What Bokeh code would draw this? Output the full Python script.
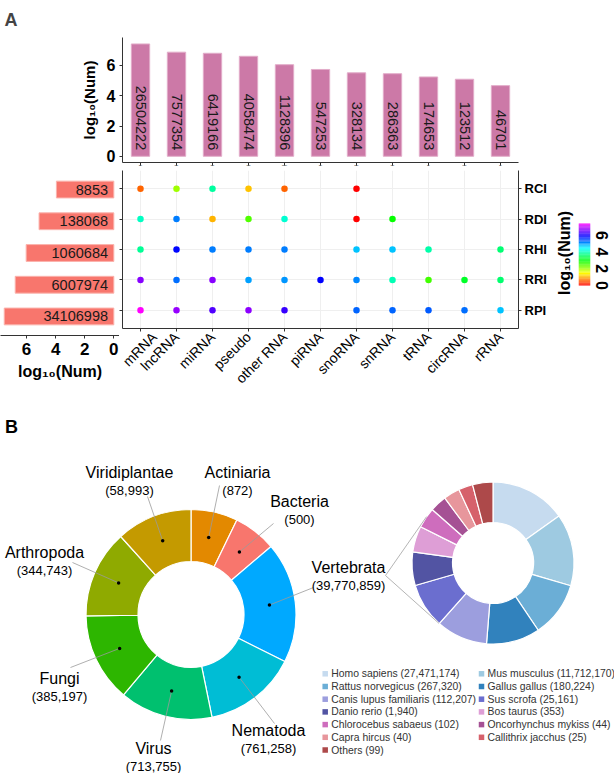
import math, colorsys
import numpy as np
from bokeh.plotting import figure
from bokeh.layouts import column, row
from bokeh.models import Range1d, FactorRange, FixedTicker, LinearAxis, ColumnDataSource
from bokeh.transform import linear_cmap
from bokeh.core.properties import value
from bokeh.embed import file_html
from bokeh.resources import INLINE

FONT = "Liberation Sans"
AX = "#333333"
TXT = "#1a1a1a"

# ---------------- data (panel A) ----------------
rna_types = ["mRNA", "lncRNA", "miRNA", "pseudo", "other RNA", "piRNA",
             "snoRNA", "snRNA", "tRNA", "circRNA", "rRNA"]
rna_totals = [26504222, 7577354, 6419166, 4058474, 1128396, 547253,
              328134, 286363, 174653, 123512, 46701]

interactions = ["RPI", "RRI", "RHI", "RDI", "RCI"]          # bottom -> top
interaction_totals = [34106998, 6007974, 1060684, 138068, 8853]

dot_interaction = (["RCI"] * 6 + ["RDI"] * 7 + ["RHI"] * 9 + ["RRI"] * 11 + ["RPI"] * 10)
dot_rna = (["mRNA", "lncRNA", "miRNA", "pseudo", "other RNA", "snoRNA"] +
           ["mRNA", "lncRNA", "miRNA", "pseudo", "other RNA", "snoRNA", "snRNA"] +
           ["mRNA", "lncRNA", "miRNA", "pseudo", "other RNA", "snoRNA", "snRNA", "tRNA", "rRNA"] +
           ["mRNA", "lncRNA", "miRNA", "pseudo", "other RNA", "piRNA", "snoRNA", "snRNA", "tRNA", "circRNA", "rRNA"] +
           ["mRNA", "lncRNA", "miRNA", "pseudo", "other RNA", "snoRNA", "snRNA", "tRNA", "circRNA", "rRNA"])
dot_log10 = ([0.6, 2.05, 3.9, 1.15, 0.6, 0.0] +
             [4.1, 5.2, 1.05, 2.5, 4.2, 0.0, 2.95] +
             [3.85, 5.9, 5.2, 5.2, 5.2, 4.8, 4.8, 3.95, 3.65] +
             [6.7, 5.3, 6.7, 5.0, 5.05, 5.94, 5.15, 4.0, 2.6, 3.2, 3.6] +
             [7.42, 6.8, 6.4, 6.75, 6.25, 5.35, 5.35, 5.4, 5.3, 4.8])

# ---------------- data (panel B) ----------------
kingdoms = ["Actiniaria", "Bacteria", "Vertebrata", "Nematoda", "Virus",
            "Fungi", "Arthropoda", "Viridiplantae"]
kingdom_counts = [872, 500, 39770859, 761258, 713755, 385197, 344743, 58993]
kingdom_colors = ["#E38900", "#F8766D", "#00A9FF", "#00BDD5", "#00C06F",
                  "#2DB600", "#8FAA00", "#C49A00"]

species = ["Homo sapiens", "Mus musculus", "Rattus norvegicus", "Gallus gallus",
           "Canis lupus familiaris", "Sus scrofa", "Danio rerio", "Bos taurus",
           "Chlorocebus sabaeus", "Oncorhynchus mykiss", "Capra hircus",
           "Callithrix jacchus", "Others"]
species_counts = [27471174, 11712170, 267320, 180224, 112207, 25161, 1940,
                  353, 102, 44, 40, 25, 99]
species_colors = ["#C6DBEF", "#9ECAE1", "#6BAED6", "#3182BD", "#9C9EDE",
                  "#6B6ECF", "#5254A3", "#DE9ED6", "#CE6DBD", "#A55194",
                  "#E7969C", "#D6616B", "#AD494A"]

# ---------------- layout constants (page pixels, origin top-left) ----------------
PAGE_H = 773
B_TOP = 395
def Y(y):
    return PAGE_H - y

k_label_xy = [(237, 472), (299, 501), (348, 567), (268, 730), (153, 748),
              (59, 678), (44, 552), (129, 472)]
k_leader_end = [(219, 485), (273, 523), (313, 587), (274, 723), (160, 740),
                (70, 667), (72, 562), (147, 496)]
L_CX, L_CY, L_R, L_r = 190.5, 614, 105, 53
R_CX, R_CY, R_R, R_r = 492.5, 562.5, 81, 40.5
APEX = (385, 575)
LEG_X0, LEG_X1, LEG_Y0, LEG_DY = 324.7, 481.0, 673.3, 12.7


def rainbow_palette(n=256):
    pal = []
    for i in range(n):
        h = (300.0 / 360.0) * i / (n - 1)
        r, g, b = colorsys.hsv_to_rgb(h, 1, 1)
        pal.append("#%02x%02x%02x" % (int(r * 255 + .5), int(g * 255 + .5), int(b * 255 + .5)))
    return pal

PAL = rainbow_palette()
VMAX = max(dot_log10)


def fig(**kw):
    p = figure(output_backend="svg", toolbar_location=None, **kw)
    p.outline_line_color = None
    p.xgrid.visible = False
    p.ygrid.visible = False
    p.frame_align = False
    return p


def style_axis(ax, size="16px", style="bold"):
    ax.axis_line_color = AX
    ax.major_tick_line_color = AX
    ax.minor_tick_line_color = None
    ax.major_tick_in = 0
    ax.major_tick_out = 3
    ax.major_label_text_font = FONT
    ax.major_label_text_font_size = size
    ax.major_label_text_font_style = style
    ax.major_label_text_color = "black"
    ax.axis_label_text_font = FONT
    ax.axis_label_text_font_style = "bold"
    ax.axis_label_text_color = "black"


# ---------------- row 1 : top bars ----------------
p_top = fig(width=614, height=169, x_range=FactorRange(factors=rna_types),
            y_range=Range1d(-0.41, 7.85), min_border_left=122, min_border_right=96,
            min_border_top=36, min_border_bottom=5)
p_top.title.text = "A"
p_top.title.align = "left"
p_top.title.offset = -118
p_top.title.vertical_align = "bottom"
p_top.title.standoff = 15
p_top.title.text_font = FONT
p_top.title.text_font_size = "18px"
p_top.title.text_font_style = "bold"
p_top.vbar(x=rna_types, top=np.log10(rna_totals), width=0.51,
           fill_color="#CC79A7", line_color="#E2ACC9", line_width=1)
p_top.text(x=rna_types, y=[0.4] * len(rna_types), text=[str(v) for v in rna_totals],
           angle=-math.pi / 2, text_align="right", text_baseline="middle",
           text_font=value(FONT), text_font_size="14.5px", text_color=TXT)
style_axis(p_top.yaxis[0], "16px")
p_top.yaxis.ticker = FixedTicker(ticks=[0, 2, 4, 6])
p_top.yaxis.axis_label = "log₁₀(Num)"
p_top.yaxis.axis_label_text_font_size = "15px"
p_top.yaxis.axis_label_standoff = 6
p_top.yaxis.major_label_standoff = 4
style_axis(p_top.xaxis[0], "1px")
p_top.xaxis.major_label_overrides = {f: "" for f in rna_types}
p_top.xaxis.major_label_standoff = 0

# ---------------- row 2 ----------------
row_pos = list(range(len(interactions)))
YR = (-0.6, len(interactions) - 0.4)
TOP2, BOT2 = 1, 60

p_left = fig(width=119, height=226, x_range=Range1d(7.79, -0.39), y_range=Range1d(*YR),
             y_axis_location=None, min_border_left=0, min_border_right=0,
             min_border_top=TOP2, min_border_bottom=BOT2)
p_left.hbar(y=row_pos, left=0, right=np.log10(interaction_totals), height=0.53,
            fill_color="#F8766D", line_color="#FBB3AD", line_width=1)
p_left.text(x=[0.4] * len(interactions), y=row_pos, text=[str(v) for v in interaction_totals],
            text_align="right", text_baseline="middle", text_font=value(FONT),
            text_font_size="14.5px", text_color=TXT)
style_axis(p_left.xaxis[0], "17px")
p_left.xaxis.ticker = FixedTicker(ticks=[0, 2, 4, 6])
p_left.xaxis.axis_label = "log₁₀(Num)"
p_left.xaxis.axis_label_text_font_size = "16px"
p_left.xaxis.major_label_standoff = 4
p_left.xaxis.axis_label_standoff = 5

p_dot = fig(width=433, height=226, x_range=FactorRange(factors=rna_types), y_range=Range1d(*YR),
            y_axis_location="right", min_border_left=3, min_border_right=34,
            min_border_top=TOP2, min_border_bottom=BOT2)
p_dot.xgrid.visible = True
p_dot.ygrid.visible = True
p_dot.xgrid.grid_line_color = "#EFEFEF"
p_dot.ygrid.grid_line_color = "#EFEFEF"
dot_y = [interactions.index(i) for i in dot_interaction]
src = ColumnDataSource(dict(x=dot_rna, y=dot_y, v=dot_log10))
p_dot.scatter(x="x", y="y", size=6.5, line_color=None,
              fill_color=linear_cmap("v", PAL, 0, VMAX), source=src)
style_axis(p_dot.yaxis[0], "13px")
p_dot.yaxis.ticker = FixedTicker(ticks=row_pos)
p_dot.yaxis.major_label_overrides = {i: n for i, n in enumerate(interactions)}
p_dot.yaxis.major_label_standoff = 3
style_axis(p_dot.xaxis[0], "14px", "normal")
p_dot.xaxis.major_label_orientation = math.pi / 4
p_dot.xaxis.major_label_standoff = 3
lax = LinearAxis(ticker=FixedTicker(ticks=row_pos))
style_axis(lax, "1px")
lax.major_label_overrides = {i: "" for i in row_pos}
lax.major_label_standoff = 0
p_dot.add_layout(lax, "left")

# colour bar: frame spans the row, bar drawn from 0..VMAX inside
CB_TOP, CB_BOT, FR_TOP, FR_BOT = 223, 285, 170, 335
scale = (CB_BOT - CB_TOP) / VMAX
p_cb = fig(width=62, height=226, x_range=Range1d(0, 1),
           y_range=Range1d(-(FR_BOT - CB_BOT) / scale, VMAX + (CB_TOP - FR_TOP) / scale),
           x_axis_location=None, y_axis_location="right",
           min_border_left=26, min_border_right=24, min_border_top=TOP2, min_border_bottom=BOT2)
edges = np.linspace(0, VMAX, 81)
cb_src = ColumnDataSource(dict(b=edges[:-1], t=edges[1:], m=(edges[:-1] + edges[1:]) / 2))
p_cb.quad(left=0, right=1, bottom="b", top="t", source=cb_src, line_color=None,
          fill_color=linear_cmap("m", PAL, 0, VMAX))
style_axis(p_cb.yaxis[0], "16px")
p_cb.yaxis.ticker = FixedTicker(ticks=[0, 2, 4, 6])
p_cb.yaxis.major_label_orientation = "vertical"
p_cb.yaxis.major_tick_out = 0
p_cb.yaxis.axis_line_color = None
p_cb.yaxis.major_label_standoff = 5
cax = LinearAxis(ticker=FixedTicker(ticks=[]), axis_label="log₁₀(Num)")
style_axis(cax, "10px")
cax.axis_line_color = None
cax.axis_label_text_font_size = "16px"
cax.axis_label_standoff = 6
p_cb.add_layout(cax, "left")

# ---------------- row 3 : panel B ----------------
p_b = fig(width=614, height=PAGE_H - B_TOP, x_range=Range1d(0, 614), y_range=Range1d(0, Y(B_TOP)),
          x_axis_location=None, y_axis_location=None, min_border=0)
p_b.text(x=[4.5], y=[Y(426)], text=["B"], text_align="left", text_baseline="middle",
         text_font=value(FONT), text_font_size="18px", text_font_style="bold", text_color="black")


def donut_angles(counts):
    w = np.log10(np.array(counts, dtype=float))
    cum = np.concatenate([[0], np.cumsum(w)]) / w.sum() * 2 * math.pi
    return cum[:-1], cum[1:]          # clockwise from 12 o'clock

ks, ke = donut_angles(kingdom_counts)
p_b.annular_wedge(x=L_CX, y=Y(L_CY), inner_radius=L_r, outer_radius=L_R,
                  start_angle=math.pi / 2 - ks, end_angle=math.pi / 2 - ke, direction="clock",
                  fill_color=kingdom_colors, line_color="white", line_width=1.2)
km = (ks + ke) / 2
rm = (L_R + L_r) / 2
dx = L_CX + rm * np.sin(km)
dy = Y(L_CY) + rm * np.cos(km)
p_b.segment(x0=dx, y0=dy, x1=[e[0] for e in k_leader_end], y1=[Y(e[1]) for e in k_leader_end],
            line_color="#9a9a9a", line_width=0.8)
p_b.scatter(x=dx, y=dy, size=3.5, fill_color="black", line_color=None)
p_b.text(x=[p[0] for p in k_label_xy], y=[Y(p[1]) for p in k_label_xy], text=kingdoms,
         text_align="center", text_baseline="middle", text_font=value(FONT),
         text_font_size="16px", text_color="black")
p_b.text(x=[p[0] for p in k_label_xy], y=[Y(p[1] + 17.5) for p in k_label_xy],
         text=["(%s)" % format(c, ",") for c in kingdom_counts],
         text_align="center", text_baseline="middle", text_font=value(FONT),
         text_font_size="13px", text_color="black")

ss, se = donut_angles(species_counts)
p_b.annular_wedge(x=R_CX, y=Y(R_CY), inner_radius=R_r, outer_radius=R_R,
                  start_angle=math.pi / 2 - ss, end_angle=math.pi / 2 - se, direction="clock",
                  fill_color=species_colors, line_color="white", line_width=1.2)

# tangent connectors from the Vertebrata label to the zoomed donut
ax_, ay_ = APEX[0], Y(APEX[1])
vx, vy = ax_ - R_CX, ay_ - Y(R_CY)
d = math.hypot(vx, vy)
base = math.atan2(vy, vx)
off = math.acos(R_R / d)
tx = [R_CX + R_R * math.cos(base + s * off) for s in (1, -1)]
ty = [Y(R_CY) + R_R * math.sin(base + s * off) for s in (1, -1)]
p_b.segment(x0=[ax_, ax_], y0=[ay_, ay_], x1=tx, y1=ty, line_color="#b5b5b5", line_width=1)

# legend of species (two columns, row-major)
lx = [LEG_X0 if i % 2 == 0 else LEG_X1 for i in range(len(species))]
ly = [Y(LEG_Y0 + LEG_DY * (i // 2)) for i in range(len(species))]
p_b.rect(x=lx, y=ly, width=5.5, height=5.5, fill_color=species_colors, line_color=None)
p_b.text(x=[x + 6 for x in lx], y=ly,
         text=["%s (%s)" % (s, format(c, ",")) for s, c in zip(species, species_counts)],
         text_align="left", text_baseline="middle", text_font=value(FONT),
         text_font_size="10.4px", text_color="#333333")

layout = column(p_top, row(p_left, p_dot, p_cb), p_b)
open("out.html", "w").write(file_html(layout, INLINE))
